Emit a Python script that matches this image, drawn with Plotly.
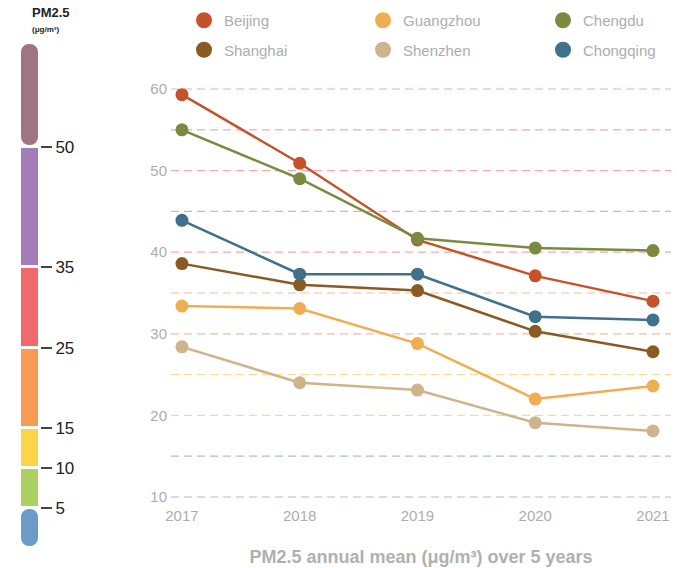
import plotly.graph_objects as go

# PM2.5 annual mean per city (ug/m3)
years = [2017, 2018, 2019, 2020, 2021]
beijing = [59.3, 50.9, 41.5, 37.1, 34.0]
shanghai = [38.6, 36.0, 35.3, 30.3, 27.8]
guangzhou = [33.4, 33.1, 28.8, 22.0, 23.6]
shenzhen = [28.4, 24.0, 23.1, 19.1, 18.1]
chengdu = [55.0, 49.0, 41.7, 40.5, 40.2]
chongqing = [43.9, 37.3, 37.3, 32.1, 31.7]

# colour scale on the left
scale_bounds = [0, 5, 10, 15, 25, 35, 50, 63]
scale_colors = ['#6b9bc7', '#acd163', '#fdd448', '#f79a56', '#f06a6b', '#a47db8', '#9e7580']
scale_ticks = [5, 10, 15, 25, 35, 50]

# dashed guide lines
grid_values = [10, 15, 20, 25, 30, 35, 40, 45, 50, 55, 60]
grid_colors = ['#aabfdb', '#aabfdb', '#f8dd8e', '#f8dd8e', '#f7bb9c', '#f7bb9c',
               '#f2aaa7', '#f2aaa7', '#f2aaa7', '#f2aaa7', '#f2aaa7']

FONT = 'Liberation Sans, Arial, Helvetica, sans-serif'
GREY = '#adadad'

# name, values, colour, legend column
cities = [
    ('Beijing', beijing, '#c4532b', 'legend'),
    ('Shanghai', shanghai, '#8a5a23', 'legend'),
    ('Guangzhou', guangzhou, '#f0ae53', 'legend2'),
    ('Shenzhen', shenzhen, '#cfb38c', 'legend2'),
    ('Chengdu', chengdu, '#7a8a3f', 'legend3'),
    ('Chongqing', chongqing, '#3f718a', 'legend3'),
]
draw_order = ['Beijing', 'Shanghai', 'Guangzhou', 'Shenzhen', 'Chengdu', 'Chongqing']

fig = go.Figure()

lookup = {c[0]: c for c in cities}
for name in draw_order:
    _, vals, col, _ = lookup[name]
    fig.add_trace(go.Scatter(x=years, y=vals, mode='lines+markers', name=name,
                             line=dict(color=col, width=2.5),
                             marker=dict(color=col, size=13),
                             showlegend=False, hoverinfo='skip'))

# legend entries (markers only)
for name, vals, col, lg in cities:
    fig.add_trace(go.Scatter(x=[None], y=[None], mode='markers', name=name,
                             marker=dict(color=col, size=20), legend=lg,
                             legendgroup=name))

# colour scale bar
n = len(scale_colors)
for i in range(n):
    lo, hi = scale_bounds[i], scale_bounds[i + 1]
    if i == 0:
        base, h, cr = hi, lo - hi, '50%'
    else:
        base, h, cr = lo, hi - lo, ('50%' if i == n - 1 else 0)
    fig.add_trace(go.Bar(x=[0], y=[h], base=base, width=1, xaxis='x2', yaxis='y2',
                         marker=dict(color=scale_colors[i], cornerradius=cr,
                                     line=dict(color='white', width=3)),
                         showlegend=False, hoverinfo='skip'))

for v, c in zip(grid_values, grid_colors):
    fig.add_shape(type='line', xref='x domain', yref='y', x0=0, x1=1, y0=v, y1=v,
                  line=dict(color=c, width=1.2, dash='8px,5px'), layer='below')

fig.add_annotation(text='<b>PM2.5</b>', x=30 / 671, y=(550 - 13) / 510, xref='paper',
                   yref='paper', yanchor='middle', showarrow=False,
                   font=dict(size=13, color='#222', family=FONT))
fig.add_annotation(text='<b>(μg/m³)</b>', x=30 / 671, y=(550 - 29) / 510, xref='paper',
                   yref='paper', yanchor='middle', showarrow=False,
                   font=dict(size=8, color='#222', family=FONT))

legend_style = dict(orientation='v', yref='container', xref='container',
                    yanchor='top', xanchor='left', y=1 - 4 / 568,
                    tracegroupgap=7, font=dict(size=15, color=GREY),
                    bgcolor='rgba(0,0,0,0)')

fig.update_layout(
    width=677, height=568,
    margin=dict(l=0, r=6, t=40, b=18, autoexpand=False),
    paper_bgcolor='white', plot_bgcolor='white',
    font=dict(family=FONT, color=GREY),
    barmode='overlay', bargap=0,
    xaxis=dict(domain=[171 / 671, 1], range=[2016.907, 2021.153],
               tickvals=years, showgrid=False, zeroline=False, showline=False,
               tickfont=dict(size=15, color=GREY),
               title=dict(text='<b>PM2.5 annual mean (μg/m³) over 5 years</b>',
                          font=dict(size=18, color='#b0b0b0'), standoff=27)),
    yaxis=dict(domain=[45 / 510, 470 / 510], range=[9.02, 61.1],
               tickvals=[10, 20, 30, 40, 50, 60], showgrid=False, zeroline=False,
               showline=False, ticklabelstandoff=3, tickfont=dict(size=15, color=GREY)),
    xaxis2=dict(domain=[20 / 671, 40 / 671], range=[-0.5, 0.5], anchor='y2',
                visible=False, fixedrange=True),
    yaxis2=dict(domain=[2 / 510, 507 / 510], range=[0, 63], anchor='x2', side='right',
                tickvals=scale_ticks, ticks='outside', ticklen=11, tickwidth=1.5,
                tickcolor='#444', showgrid=False, zeroline=False, showline=False,
                tickfont=dict(size=17, color='#222')),
    legend=dict(legend_style, x=184 / 677),
    legend2=dict(legend_style, x=363 / 677),
    legend3=dict(legend_style, x=543 / 677),
)

# page body has a default 8px margin, drop it so the figure sits at the corner
fig.write_html('out.html', config={'displayModeBar': False},
               post_script="document.body.style.margin='0px';")
